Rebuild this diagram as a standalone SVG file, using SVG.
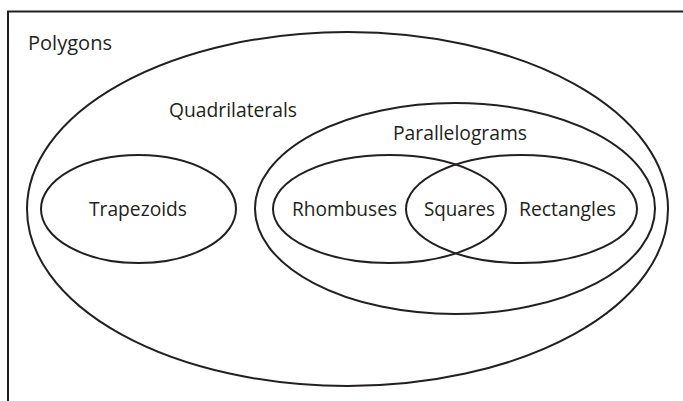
<svg xmlns="http://www.w3.org/2000/svg" width="683" height="401" viewBox="0 0 683 401">
  <style>
    .set { fill: none; stroke: #231f20; stroke-width: 2; }
    .frame { fill: none; stroke: #231f20; stroke-width: 2; }
    .label { font-family: "Open Sans", "Noto Sans", sans-serif; font-size: 20px; fill: #231f20; text-anchor: middle; }
  </style>
  <rect width="683" height="401" fill="#ffffff"/>
  <!-- open frame: top and left edges only -->
  <path class="frame" d="M8,401 V11.5 H683"/>
  <g id="polygons">
    <text class="label" x="70" y="50" textLength="84" lengthAdjust="spacingAndGlyphs">Polygons</text>
  </g>
  <g id="quadrilaterals">
    <ellipse class="set" cx="347.5" cy="209" rx="320.5" ry="177"/>
    <text class="label" x="233" y="117" textLength="128" lengthAdjust="spacingAndGlyphs">Quadrilaterals</text>
  </g>
  <g id="trapezoids">
    <ellipse class="set" cx="138.5" cy="209" rx="97.5" ry="54"/>
    <text class="label" x="138" y="216" textLength="98" lengthAdjust="spacingAndGlyphs">Trapezoids</text>
  </g>
  <g id="parallelograms">
    <ellipse class="set" cx="455" cy="208.5" rx="200" ry="105.5"/>
    <text class="label" x="460" y="140" textLength="134" lengthAdjust="spacingAndGlyphs">Parallelograms</text>
  </g>
  <g id="rhombuses">
    <ellipse class="set" cx="389.5" cy="209" rx="116.5" ry="54"/>
    <text class="label" x="344.5" y="216" textLength="105" lengthAdjust="spacingAndGlyphs">Rhombuses</text>
  </g>
  <g id="rectangles">
    <ellipse class="set" cx="521.5" cy="209" rx="115.5" ry="54"/>
    <text class="label" x="567.5" y="216" textLength="97" lengthAdjust="spacingAndGlyphs">Rectangles</text>
  </g>
  <g id="squares">
    <text class="label" x="459.5" y="216" textLength="71" lengthAdjust="spacingAndGlyphs">Squares</text>
  </g>
</svg>
